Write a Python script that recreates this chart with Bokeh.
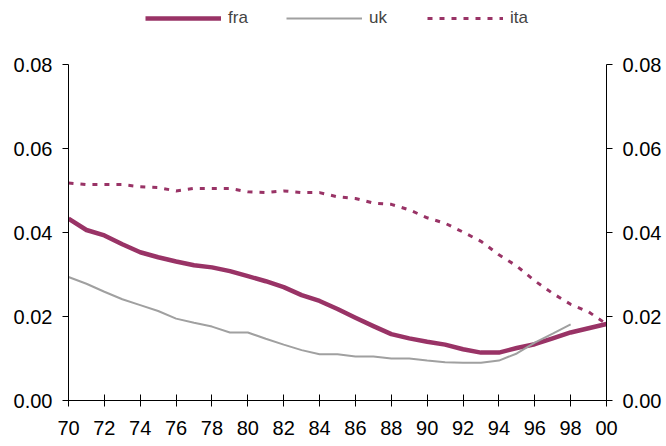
from bokeh.plotting import figure
from bokeh.models import Range1d, LinearAxis, FixedTicker, Legend, LegendItem
from bokeh.embed import file_html
from bokeh.resources import INLINE

years = list(range(1970, 2001))
fra = [0.0433, 0.0406, 0.0393, 0.0372, 0.0353, 0.0341, 0.0331, 0.0322, 0.0317, 0.0308,
       0.0296, 0.0284, 0.0270, 0.0251, 0.0237, 0.0218, 0.0197, 0.0177, 0.0158, 0.0148,
       0.0140, 0.0133, 0.0122, 0.0114, 0.0114, 0.0125, 0.0134, 0.0148, 0.0162, 0.0172,
       0.0182]
uk_years = list(range(1970, 1999))
uk = [0.0294, 0.0278, 0.0259, 0.0241, 0.0227, 0.0213, 0.0195, 0.0185, 0.0176, 0.0162,
      0.0162, 0.0147, 0.0133, 0.0120, 0.0110, 0.0110, 0.0105, 0.0105, 0.0100, 0.0100,
      0.0095, 0.0091, 0.0090, 0.0090, 0.0095, 0.0112, 0.0138, 0.0159, 0.0181]
ita = [0.0518, 0.0514, 0.0514, 0.0514, 0.0509, 0.0507, 0.0499, 0.0505, 0.0505, 0.0505,
       0.0497, 0.0495, 0.0499, 0.0495, 0.0495, 0.0485, 0.0481, 0.0470, 0.0467, 0.0454,
       0.0435, 0.0422, 0.0401, 0.0379, 0.0347, 0.0320, 0.0285, 0.0255, 0.0229, 0.0211,
       0.0182]

x_ticks = list(range(1970, 2001, 2))
x_tick_labels = ["70", "72", "74", "76", "78", "80", "82", "84", "86", "88",
                 "90", "92", "94", "96", "98", "00"]
y_ticks = [0.0, 0.02, 0.04, 0.06, 0.08]
y_tick_labels = ["0.00", "0.02", "0.04", "0.06", "0.08"]
y_max = 0.08

PURPLE = "#993366"
GREY = "#A0A0A0"
FONT = "Liberation Sans"

# frame spans the whole height above the x axis so the legend is not clipped;
# the y axes are bounded to 0..0.08
FRAME_H = 400
PLOT_H = 336
p = figure(frame_width=538, frame_height=FRAME_H, output_backend="svg",
           toolbar_location=None, x_range=Range1d(1970, 2000),
           y_range=Range1d(0, y_max * FRAME_H / PLOT_H), min_border_left=68,
           min_border_right=60, min_border_top=0, min_border_bottom=46,
           y_axis_location=None, x_axis_location=None)
p.outline_line_color = None
p.xgrid.visible = False
p.ygrid.visible = False
p.background_fill_color = "white"
p.border_fill_color = "white"


def style_axis(ax, ticks, labels, tin, tout, standoff):
    ax.ticker = FixedTicker(ticks=ticks)
    ax.major_label_overrides = {t: l for t, l in zip(ticks, labels)}
    ax.minor_tick_line_color = None
    ax.major_tick_in = tin
    ax.major_tick_out = tout
    ax.axis_line_color = "black"
    ax.major_tick_line_color = "black"
    ax.major_label_text_font = FONT
    ax.major_label_text_font_size = "20px"
    ax.major_label_text_color = "black"
    ax.major_label_standoff = standoff


xax = LinearAxis()
style_axis(xax, x_ticks, x_tick_labels, 6, 6, 14)
p.add_layout(xax, "below")

yl = LinearAxis(bounds=(0, y_max))
style_axis(yl, y_ticks, y_tick_labels, 0, 6, 10)
p.add_layout(yl, "left")

yr = LinearAxis(bounds=(0, y_max))
style_axis(yr, y_ticks, y_tick_labels, 0, 6, 10)
p.add_layout(yr, "right")

r_fra = p.line(years, fra, line_color=PURPLE, line_width=4.5, line_join="round")
r_uk = p.line(uk_years, uk, line_color=GREY, line_width=2)
r_ita = p.line(years, ita, line_color=PURPLE, line_width=3, line_dash="5 7")

legend = Legend(items=[LegendItem(label="fra", renderers=[r_fra]),
                       LegendItem(label="uk", renderers=[r_uk]),
                       LegendItem(label="ita", renderers=[r_ita])],
                orientation="horizontal", location=(77, 372),
                glyph_width=76, glyph_height=20, label_standoff=7, spacing=38,
                label_text_font=FONT, label_text_font_size="17px",
                padding=0, margin=0, border_line_alpha=0,
                background_fill_alpha=0)
p.add_layout(legend, "center")

open("out.html", "w").write(file_html(p, INLINE))
